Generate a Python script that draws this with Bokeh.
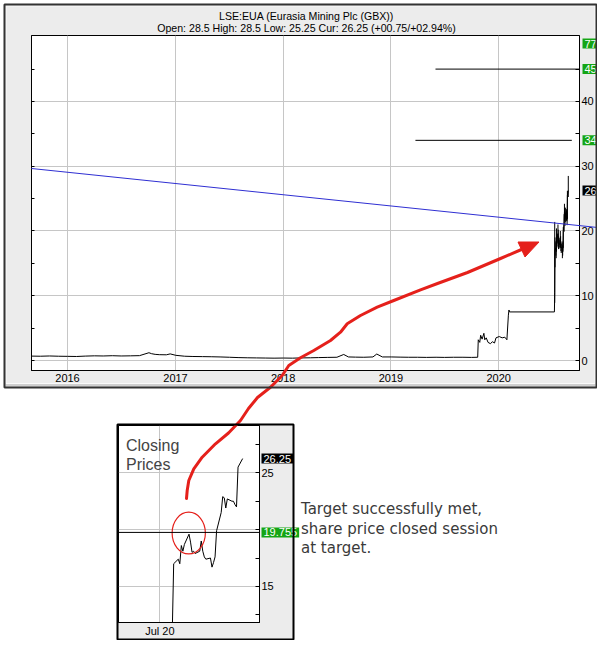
import pandas as pd
from bokeh.plotting import figure
from bokeh.models import (Range1d, FixedTicker, DatetimeTickFormatter, LinearAxis, Label,
                          ColumnDataSource, Span, GridBox, Spacer)
from bokeh.layouts import column, row
from bokeh.embed import file_html
from bokeh.resources import INLINE

# ---------------------------------------------------------------- data
hist_dates = [
    "2015-09-01", "2015-10-01", "2015-11-01", "2015-12-01",
    "2016-01-01", "2016-02-01", "2016-03-01", "2016-04-01", "2016-05-01", "2016-06-01",
    "2016-07-01", "2016-08-01", "2016-09-01", "2016-10-03", "2016-10-12", "2016-10-24",
    "2016-11-07", "2016-12-01", "2016-12-14", "2017-01-02", "2017-02-01", "2017-03-01",
    "2017-04-03", "2017-05-02", "2017-06-01", "2017-07-03", "2017-08-01", "2017-09-01",
    "2017-10-02", "2017-11-01", "2017-12-01", "2018-01-02", "2018-02-01", "2018-03-01",
    "2018-04-03", "2018-05-01", "2018-06-01", "2018-07-02", "2018-07-25", "2018-08-10",
    "2018-09-03", "2018-10-01", "2018-11-01", "2018-11-14", "2018-12-03", "2019-01-02",
    "2019-02-01", "2019-03-01", "2019-04-01", "2019-05-01", "2019-06-03", "2019-07-01",
    "2019-08-01", "2019-09-02", "2019-10-01", "2019-10-22", "2019-10-24", "2019-10-29",
    "2019-11-01", "2019-11-06", "2019-11-12", "2019-11-15", "2019-11-20", "2019-11-26",
    "2019-12-04", "2019-12-11", "2019-12-18", "2019-12-23", "2020-01-03", "2020-01-13",
    "2020-01-22", "2020-01-29", "2020-02-03", "2020-02-05", "2020-02-07", "2020-07-08"]
hist_prices = [
    0.68, 0.66, 0.70, 0.66,
    0.64, 0.62, 0.68, 0.72, 0.70, 0.74,
    0.70, 0.72, 0.75, 1.20, 1.05, 0.95,
    0.90, 0.88, 1.02, 0.80, 0.66, 0.62,
    0.60, 0.58, 0.55, 0.50, 0.45, 0.42,
    0.40, 0.38, 0.36, 0.38, 0.36, 0.40,
    0.42, 0.45, 0.48, 0.50, 0.93, 0.55,
    0.52, 0.50, 0.55, 1.00, 0.55, 0.55,
    0.52, 0.50, 0.50, 0.48, 0.50, 0.48,
    0.50, 0.50, 0.48, 0.50, 3.20, 2.80,
    3.90, 3.30, 4.20, 3.20, 3.50, 2.80,
    2.60, 2.90, 2.70, 3.50, 3.70, 3.50,
    3.60, 3.20, 7.00, 7.80, 7.50, 7.50]

session_dates = [
    "2020-07-09", "2020-07-10", "2020-07-13", "2020-07-14", "2020-07-15", "2020-07-16",
    "2020-07-17", "2020-07-20", "2020-07-21", "2020-07-22", "2020-07-23", "2020-07-24",
    "2020-07-27", "2020-07-28", "2020-07-29", "2020-07-30", "2020-07-31", "2020-08-03",
    "2020-08-04", "2020-08-05", "2020-08-06", "2020-08-07", "2020-08-10", "2020-08-11",
    "2020-08-12", "2020-08-13", "2020-08-14", "2020-08-17", "2020-08-18", "2020-08-19",
    "2020-08-20", "2020-08-21", "2020-08-24"]
session_close = [10.5, 17.0, 17.4, 17.0, 18.6, 18.1, 18.7, 19.6, 18.9, 18.0, 18.1,
                 17.9, 18.1, 19.0, 18.1, 17.6, 17.4, 17.5, 16.7, 17.1, 17.6, 19.9,
                 21.5, 22.9, 22.8, 21.9, 22.7, 22.5, 22.5, 22.2, 22.0, 25.5, 26.25]
session_high = [21.4, 19.0, 18.4, 18.2, 20.4, 19.0, 19.5, 21.0, 20.2, 19.2, 18.8,
                18.6, 18.9, 20.0, 19.2, 18.4, 18.0, 18.2, 17.8, 17.6, 18.4, 20.6,
                22.6, 24.2, 23.6, 23.0, 23.6, 23.4, 23.2, 23.0, 22.8, 26.2, 28.5]
session_low = [8.9, 14.4, 16.2, 15.8, 16.8, 17.4, 17.6, 18.2, 18.0, 17.2, 17.5,
               17.3, 17.5, 17.8, 17.4, 16.9, 16.6, 16.8, 15.8, 16.2, 16.8, 17.4,
               19.9, 21.6, 21.8, 20.8, 21.4, 21.6, 21.7, 21.5, 20.9, 21.8, 25.25]

trend_dates = ["2015-09-01", "2020-12-01"]
trend_values = [29.65, 20.54]

target_levels = [45.0, 34.0]
target_starts = ["2019-06-01", "2019-03-25"]
target_ends = ["2020-10-01", "2020-09-05"]

axis_tags = [77.0, 45.0, 34.0, 26.25]
axis_tag_texts = ["77.0", "45.0", "34.0", "26.25"]
axis_tag_kinds = ["target", "target", "target", "current"]

inset_target = 19.755
inset_tags = [26.25, 19.755]
inset_tag_texts = ["26.25", "19.755"]
inset_tag_kinds = ["current", "target"]

year_ticks = ["2016-01-01", "2017-01-01", "2018-01-01", "2019-01-01", "2020-01-01"]
price_ticks = [0, 10, 20, 30, 40]
price_minor = [5, 15, 25, 35, 45]
inset_ticks = [15, 20, 25]
inset_minor = [12.5, 17.5, 22.5, 27.5]
inset_month_ticks = ["2020-07-01"]

title_lines = ["LSE:EUA (Eurasia Mining Plc (GBX))",
               "Open: 28.5 High: 28.5 Low: 25.25 Cur: 26.25 (+00.75/+02.94%)"]
note_lines = ["Target successfully met,", "share price closed session", "at target."]
inset_title = ["Closing", "Prices"]

# decorative annotation: hand-drawn red arrow (page pixel positions)
arrow_x = [186, 186.7, 188.3, 193.3, 201.7, 215, 228, 240, 248, 257, 270, 281.7, 288.3,
           300, 313.3, 330, 340, 346.7, 360, 376.7, 393.3, 420, 437, 467, 500, 521]
arrow_y = [498, 490, 480, 468.3, 456.7, 443.3, 432.5, 420, 408, 397, 386.7, 375, 365,
           357.3, 350, 340, 331.7, 323.3, 315, 306.7, 300, 289.3, 283, 272, 258, 249]
head_x = [538.5, 517.5, 524.5]
head_y = [241.5, 241.5, 256.5]
# highlight ellipse in the inset (date, price, width in days, height in price)
ring_center = ("2020-07-19 20:00", 19.7)
ring_size = (21.7, 3.67)

assert len(hist_dates) == len(hist_prices)
assert len(session_dates) == len(session_close) == len(session_high) == len(session_low)

# ---------------------------------------------------------------- layout constants (page px)
PN_L, PN_R, PN_T, PN_B = 3, 597, 3, 388        # main grey panel
IN_L, IN_R, IN_T, IN_B = 116, 294, 423, 640    # inset box
MF_L, MF_R, MF_T, MF_B = 31, 579, 35, 370      # main plot frame
IF_L, IF_R, IF_T, IF_B = 118, 259, 425, 622    # inset plot frame
OV_W, OV_H = PN_R, IN_B

X_START, X_END = "2015-09-01", "2020-10-01"
Y_MIN, Y_MAX = -1.544, 50.19
IX_START, IX_END = "2020-06-04", "2020-09-04"
IY_MIN, IY_MAX = 11.83, 29.16

PANEL = "#ececec"
GRID = "#c6c6c6"
GREEN = "#14a514"
RED = "#e5201b"
BLUE = "#2f2fd2"
AXFONT = "Liberation Sans"


def ms(d):
    return pd.Timestamp(d).value / 1e6


def lin(p, pa, va, pb, vb):
    return va + (p - pa) * (vb - va) / (pb - pa)


def dt_fmt(fmt):
    return DatetimeTickFormatter(milliseconds=fmt, seconds=fmt, minsec=fmt, minutes=fmt,
                                 hourmin=fmt, hours=fmt, days=fmt, months=fmt, years=fmt)


def style_axis(ax, standoff):
    ax.axis_line_color = "black"
    ax.major_label_text_font = AXFONT
    ax.major_label_text_font_size = "11px"
    ax.major_label_text_color = "black"
    ax.major_label_standoff = standoff


# ---------------------------------------------------------------- main chart
main = figure(width=PN_R - PN_L, height=PN_B - PN_T, x_axis_type="datetime",
              y_axis_location="right",
              x_range=Range1d(pd.Timestamp(X_START), pd.Timestamp(X_END)),
              y_range=Range1d(Y_MIN, Y_MAX), title=None, toolbar_location=None,
              output_backend="svg",
              min_border_left=MF_L - PN_L, min_border_right=PN_R - MF_R,
              min_border_top=MF_T - PN_T, min_border_bottom=PN_B - MF_B,
              background_fill_color="white", border_fill_color=PANEL,
              outline_line_color="black")

xt = FixedTicker(ticks=[ms(d) for d in year_ticks])
xa = main.xaxis[0]
xa.ticker = xt
xa.formatter = dt_fmt("%Y")
xa.major_tick_in = 0
xa.major_tick_out = 0
xa.minor_tick_in = 0
xa.minor_tick_out = 0
style_axis(xa, 3)

yt = FixedTicker(ticks=price_ticks, minor_ticks=price_minor)
ra = main.yaxis[0]
ra.ticker = yt
ra.major_tick_in = 4
ra.major_tick_out = 0
ra.minor_tick_in = 4
ra.minor_tick_out = 0
style_axis(ra, 2)

la = LinearAxis(ticker=yt, major_label_overrides={v: "" for v in price_ticks},
                major_tick_in=3, major_tick_out=0, minor_tick_in=3, minor_tick_out=0,
                major_label_standoff=0, axis_line_color="black")
main.add_layout(la, "left")

main.xgrid.ticker = xt
main.ygrid.ticker = yt
main.xgrid.grid_line_color = GRID
main.ygrid.grid_line_color = GRID

price_src = ColumnDataSource(dict(
    date=pd.to_datetime(hist_dates + session_dates),
    price=hist_prices + session_close))
main.line("date", "price", source=price_src, line_color="black", line_width=1)

bar_src = ColumnDataSource(dict(date=pd.to_datetime(session_dates),
                                high=session_high, low=session_low))
main.segment(x0="date", y0="low", x1="date", y1="high", source=bar_src,
             line_color="black", line_width=1)

tgt_src = ColumnDataSource(dict(x0=pd.to_datetime(target_starts), x1=pd.to_datetime(target_ends),
                                y=target_levels))
main.segment(x0="x0", y0="y", x1="x1", y1="y", source=tgt_src, line_color="black", line_width=1)

# ---------------------------------------------------------------- inset (closing prices)
inset = figure(width=IN_R - IN_L, height=IN_B - IN_T, x_axis_type="datetime",
               y_axis_location="right",
               x_range=Range1d(pd.Timestamp(IX_START), pd.Timestamp(IX_END)),
               y_range=Range1d(IY_MIN, IY_MAX), title=None, toolbar_location=None,
               output_backend="svg",
               min_border_left=IF_L - IN_L, min_border_right=IN_R - IF_R,
               min_border_top=IF_T - IN_T, min_border_bottom=IN_B - IF_B,
               background_fill_color="white", border_fill_color=PANEL,
               outline_line_color="black")

ixt = FixedTicker(ticks=[ms(d) for d in inset_month_ticks])
ixa = inset.xaxis[0]
ixa.ticker = ixt
ixa.formatter = dt_fmt("%b %y")
ixa.major_tick_in = 0
ixa.major_tick_out = 0
ixa.minor_tick_in = 0
ixa.minor_tick_out = 0
style_axis(ixa, 2)

iyt = FixedTicker(ticks=inset_ticks, minor_ticks=inset_minor)
iya = inset.yaxis[0]
iya.ticker = iyt
iya.major_tick_in = 4
iya.major_tick_out = 0
iya.minor_tick_in = 4
iya.minor_tick_out = 0
iya.major_label_overrides = {20: ""}
style_axis(iya, 2)

inset.xgrid.ticker = ixt
inset.ygrid.ticker = iyt
inset.xgrid.grid_line_color = GRID
inset.ygrid.grid_line_color = GRID

inset.add_layout(Span(location=inset_target, dimension="width", line_color="black", line_width=1))
inset.line(x=pd.to_datetime(session_dates), y=session_close, line_color="black", line_width=1)
inset.ellipse(x=[pd.Timestamp(ring_center[0])], y=[ring_center[1]],
              width=[ring_size[0] * 86400000.0], height=[ring_size[1]],
              fill_color=None, line_color=RED, line_width=1.2)

# ---------------------------------------------------------------- overlay (annotations)
ov = figure(width=OV_W, height=OV_H,
            x_range=Range1d(0, OV_W), y_range=Range1d(OV_H, 0),
            x_axis_type=None, y_axis_type=None, title=None, toolbar_location=None,
            output_backend="svg", min_border=0, min_border_left=0, min_border_right=0,
            min_border_top=0, min_border_bottom=0,
            background_fill_color=None, border_fill_color=None, outline_line_color=None)
t0, t1 = ms(X_START), ms(X_END)
ov.extra_x_ranges = {"mx": Range1d(lin(0, MF_L, t0, MF_R, t1), lin(OV_W, MF_L, t0, MF_R, t1))}
ov.extra_y_ranges = {
    "my": Range1d(lin(OV_H, MF_B, Y_MIN, MF_T, Y_MAX), lin(0, MF_B, Y_MIN, MF_T, Y_MAX)),
    "iy": Range1d(lin(OV_H, IF_B, IY_MIN, IF_T, IY_MAX), lin(0, IF_B, IY_MIN, IF_T, IY_MAX)),
}

# subtle bevel shading of the grey panel
ov.quad(left=[PN_L + 2], right=[PN_R - 2], top=[PN_B - 5], bottom=[PN_B - 2],
        fill_color="#cfcfcf", line_color=None)
ov.quad(left=[PN_L + 2.5], right=[PN_R - 2.5], top=[PN_T + 2.5], bottom=[PN_B - 5],
        fill_color=None, line_color="#fafafa", line_width=1)

# trend line (runs past the price axis, as in the original)
ov.line(x=pd.to_datetime(trend_dates), y=trend_values, x_range_name="mx", y_range_name="my",
        line_color=BLUE, line_width=1)

# title
for i, txt in enumerate(title_lines):
    ov.add_layout(Label(x=(MF_L + MF_R) / 2 + 1, y=15 + 12 * i, text=txt, text_align="center",
                        text_baseline="middle", text_font=AXFONT, text_font_size="10.6px",
                        text_color="black"))

# price tags on the main axis
for v, txt, kind in zip(axis_tags, axis_tag_texts, axis_tag_kinds):
    yv = v if v <= Y_MAX - 1.0 else Y_MAX - 1.25
    ov.add_layout(Label(x=MF_R + 3, y=yv, y_range_name="my", text=txt, text_align="left",
                        text_baseline="middle", text_font=AXFONT, text_font_size="11px",
                        text_color="white", padding=(2, 1),
                        background_fill_color=GREEN if kind == "target" else "black"))

# price tags on the inset axis
for v, txt, kind in zip(inset_tags, inset_tag_texts, inset_tag_kinds):
    ov.add_layout(Label(x=IF_R + 2, y=v, y_range_name="iy", text=txt, text_align="left",
                        text_baseline="middle", text_font=AXFONT, text_font_size="11px",
                        text_color="white", padding=(2, 1),
                        background_fill_color=GREEN if kind == "target" else "black"))

# inset heading
for i, txt in enumerate(inset_title):
    ov.add_layout(Label(x=125.5, y=444.5 + 19 * i, text=txt, text_align="left",
                        text_baseline="alphabetic", text_font=AXFONT, text_font_size="16px",
                        text_color="#444444"))

# note
for i, txt in enumerate(note_lines):
    ov.add_layout(Label(x=300.5, y=508.5 + 19.5 * i, text=txt, text_align="left",
                        text_baseline="alphabetic", text_font="DejaVu Sans",
                        text_font_size="15px", text_color="#3a3a3a"))

# red arrow
ov.line(x=arrow_x, y=arrow_y, line_color=RED, line_width=3, line_cap="round", line_join="round")
ov.patch(x=head_x, y=head_y, fill_color=RED, line_color=RED, line_width=1)

# panel borders
ov.quad(left=[PN_L + 1], right=[PN_R - 1], top=[PN_T + 1], bottom=[PN_B - 1],
        fill_color=None, line_color="#333333", line_width=2, level="overlay")
ov.quad(left=[IN_L + 1], right=[IN_R - 1], top=[IN_T + 1], bottom=[IN_B - 1],
        fill_color=None, line_color="black", line_width=2, level="overlay")

# ---------------------------------------------------------------- compose
body = column(Spacer(width=OV_W, height=PN_T),
              row(Spacer(width=PN_L, height=PN_B - PN_T), main),
              Spacer(width=OV_W, height=IN_T - PN_B),
              row(Spacer(width=IN_L, height=IN_B - IN_T), inset))
page = GridBox(children=[(body, 0, 0), (ov, 0, 0)])

open("out.html", "w").write(file_html(page, INLINE))
